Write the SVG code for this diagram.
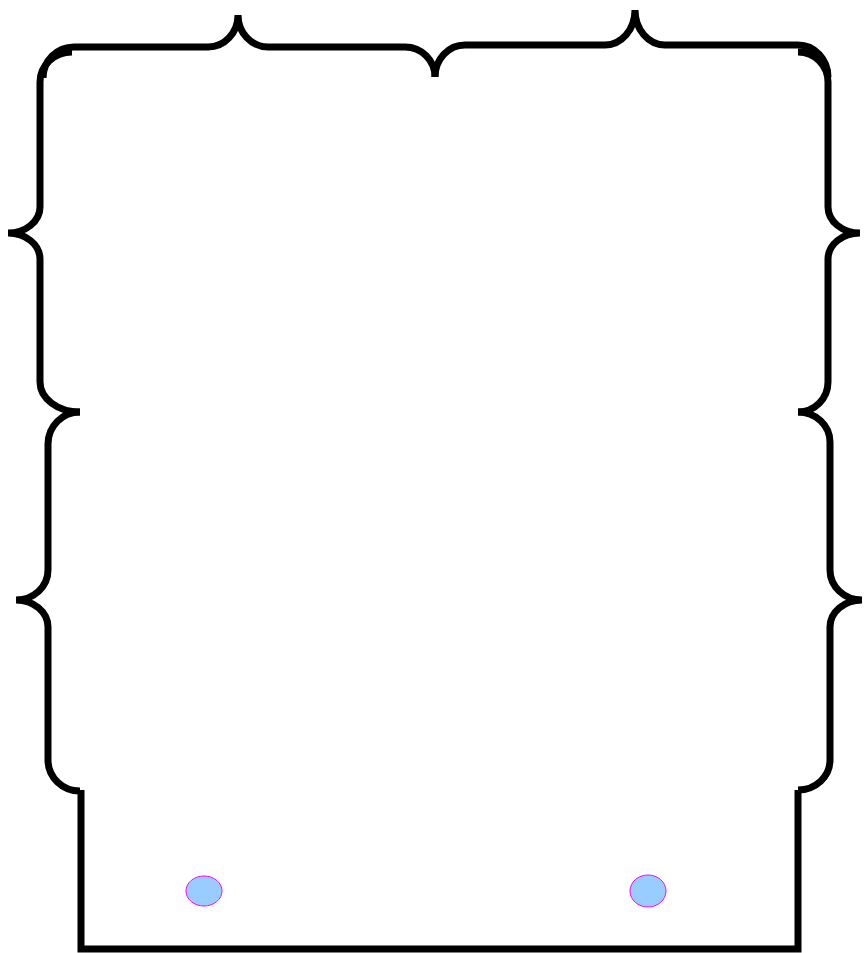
<svg xmlns="http://www.w3.org/2000/svg" width="865" height="953" viewBox="0 0 865 953">
<style>
.brace{fill:none;stroke:#000;stroke-width:7;stroke-linecap:butt;stroke-linejoin:miter}
.base{fill:none;stroke:#000;stroke-width:7}
.dot{fill:#99ccff;stroke:#ff00ff;stroke-width:1}
</style>
<rect width="865" height="953" fill="#fff"/>
<g id="braces">
<path id="brace-top-left" class="brace" d="M 43,78 A 31 31 0 0 1 74,47 L 208,47 A 30 32 0 0 0 238,15 A 30 32 0 0 0 268,47 L 405,47 A 30 30 0 0 1 435,77"/>
<path id="brace-top-right" class="brace" d="M 435,77 A 30 32 0 0 1 465,45 L 605,45 A 30 35 0 0 0 635,10 A 30 35 0 0 0 665,45 L 798,45 A 30 32 0 0 1 828,77"/>
<path id="brace-right-top" class="brace" d="M 798,52 A 30 30 0 0 1 828,82 L 828,207 A 32 26 0 0 0 860,233 A 32 26 0 0 0 828,259 L 828,382 A 30 30 0 0 1 798,412"/>
<path id="brace-right-bottom" class="brace" d="M 798,412 A 32 30 0 0 1 830,442 L 830,570 A 32 30 0 0 0 862,600 A 32 27 0 0 0 830,627 L 830,760 A 32 30 0 0 1 798,790"/>
<path id="brace-left-top" class="brace" d="M 72,52 A 32 30 0 0 0 40,82 L 40,207 A 32 26 0 0 1 8,233 A 32 26 0 0 1 40,259 L 40,382 A 40 30 0 0 0 80,412"/>
<path id="brace-left-bottom" class="brace" d="M 80,412 A 32 32 0 0 0 48,444 L 48,570 A 32 30 0 0 1 16,600 A 32 27 0 0 1 48,627 L 48,760 A 32 31 0 0 0 80,791"/>
</g>
<g id="base">
<path class="base" d="M 81,790 L 81,949 L 798,949 L 798,790"/>
</g>
<g id="dot-left"><ellipse class="dot" cx="204" cy="891" rx="18" ry="15"/></g>
<g id="dot-right"><ellipse class="dot" cx="648" cy="891" rx="18" ry="16"/></g>
</svg>
